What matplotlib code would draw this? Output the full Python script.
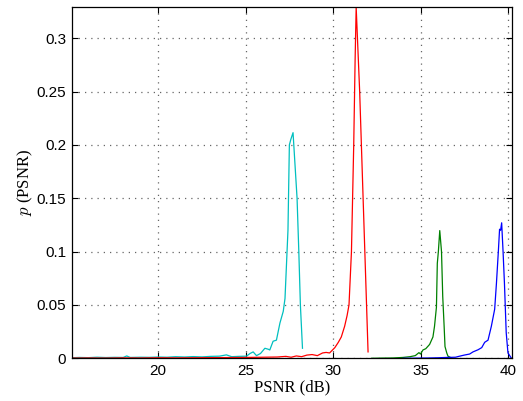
import matplotlib
matplotlib.use("Agg")
import matplotlib.pyplot as plt

plt.rcParams["mathtext.fontset"] = "cm"

# ---- data ----
cyan_x = [15.0, 15.5, 16.0, 16.5, 17.0, 17.5, 18.0, 18.2, 18.4, 19.0, 19.5, 20.0, 20.5, 21.0,
          21.5, 22.0, 22.5, 23.0, 23.5, 23.9, 24.2, 24.6, 25.05, 25.25, 25.43, 25.62, 25.85, 26.1,
          26.29, 26.38, 26.57, 26.76, 26.96, 27.15, 27.25, 27.33, 27.42, 27.5, 27.58, 27.71,
          27.94, 28.04, 28.13, 28.25]
cyan_y = [0.0005, 0.0008, 0.0006, 0.0010, 0.0007, 0.0009, 0.0008, 0.0022, 0.0008, 0.0010,
          0.0009, 0.0012, 0.0010, 0.0015, 0.0012, 0.0016, 0.0013, 0.0018, 0.0020, 0.0032,
          0.0015, 0.0018, 0.0020, 0.0045, 0.0060, 0.0025, 0.0045, 0.0094, 0.0085, 0.0078,
          0.0160, 0.0170, 0.0330, 0.0440, 0.0560, 0.0860, 0.1200, 0.2000, 0.2050, 0.2115,
          0.1500, 0.1000, 0.0500, 0.0094]

red_x = [15.0, 16.0, 17.0, 18.0, 19.0, 20.0, 21.0, 22.0, 23.0, 24.0, 25.0, 26.0, 26.8, 27.3,
         27.6, 27.9, 28.2, 28.5, 28.8, 29.1, 29.4, 29.6, 29.8, 30.1, 30.3, 30.47, 30.66, 30.8,
         30.91, 31.05, 31.18, 31.26, 31.32, 31.52, 32.0]
red_y = [0.0002, 0.0003, 0.0002, 0.0004, 0.0003, 0.0005, 0.0004, 0.0005, 0.0006, 0.0007,
         0.0008, 0.0010, 0.0012, 0.0018, 0.0010, 0.0022, 0.0015, 0.0030, 0.0035, 0.0025,
         0.0050, 0.0055, 0.0050, 0.0100, 0.0150, 0.0200, 0.0300, 0.0400, 0.0500, 0.1000,
         0.2000, 0.2800, 0.3290, 0.2500, 0.0060]

green_x = [32.2, 32.8, 33.4, 34.0, 34.4, 34.7, 34.91, 35.0, 35.14, 35.3, 35.52, 35.71, 35.8,
           35.91, 35.96, 36.02, 36.1, 36.2, 36.27, 36.35, 36.4, 36.5, 36.57, 36.8]
green_y = [0.0000, 0.0002, 0.0003, 0.0008, 0.0015, 0.0025, 0.0053, 0.0040, 0.0078, 0.0090,
           0.0130, 0.0200, 0.0300, 0.0480, 0.0890, 0.1000, 0.1197, 0.1000, 0.0580, 0.0300,
           0.0110, 0.0050, 0.0020, 0.0000]

blue_x = [34.0, 34.5, 35.0, 35.5, 36.0, 36.5, 37.0, 37.24, 37.5, 37.81, 38.0, 38.29, 38.5,
          38.67, 38.86, 39.05, 39.24, 39.34, 39.45, 39.52, 39.58, 39.64, 39.72, 39.8, 39.9,
          40.0, 40.2]
blue_y = [0.0000, 0.0001, 0.0002, 0.0003, 0.0005, 0.0008, 0.0010, 0.0020, 0.0030, 0.0040,
          0.0060, 0.0080, 0.0100, 0.0150, 0.0170, 0.0300, 0.0460, 0.0700, 0.1000, 0.1210,
          0.1200, 0.1270, 0.1000, 0.0700, 0.0240, 0.0050, 0.0000]

xticks = [20, 25, 30, 35, 40]
yticks = [0, 0.05, 0.1, 0.15, 0.2, 0.25, 0.3]
ytick_labels = ["0", "0.05", "0.1", "0.15", "0.2", "0.25", "0.3"]

fig = plt.figure(figsize=(5.23, 4.01), dpi=100)
ax = fig.add_axes([0.137, 0.1065, 0.8426, 0.8753])

ax.plot(cyan_x, cyan_y, color=(0, 0.75, 0.75), lw=0.9)
ax.plot(red_x, red_y, color=(1, 0, 0), lw=0.9)
ax.plot(green_x, green_y, color=(0, 0.5, 0), lw=0.9)
ax.plot(blue_x, blue_y, color=(0, 0, 1), lw=0.9)

ax.set_xlim(15.05, 40.25)
ax.set_ylim(0, 0.329)
ax.set_xticks(xticks)
ax.set_xticklabels([str(t) for t in xticks])
ax.set_yticks(yticks)
ax.set_yticklabels(ytick_labels)

ax.grid(True, linestyle=(0, (1, 4)), color="#666666", lw=0.9)
ax.tick_params(direction="in", top=True, right=True, length=4, width=0.8,
               labelsize=11, pad=4)
for lab in ax.get_xticklabels() + ax.get_yticklabels():
    lab.set_family("Liberation Sans")
for sp in ax.spines.values():
    sp.set_linewidth(0.9)

ax.set_xlabel("PSNR (dB)", family="Liberation Serif", fontsize=12, labelpad=1)
ax.set_ylabel(r"$p$ (PSNR)", family="Liberation Serif", fontsize=12, labelpad=1)

fig.savefig("out.png", dpi=100)
